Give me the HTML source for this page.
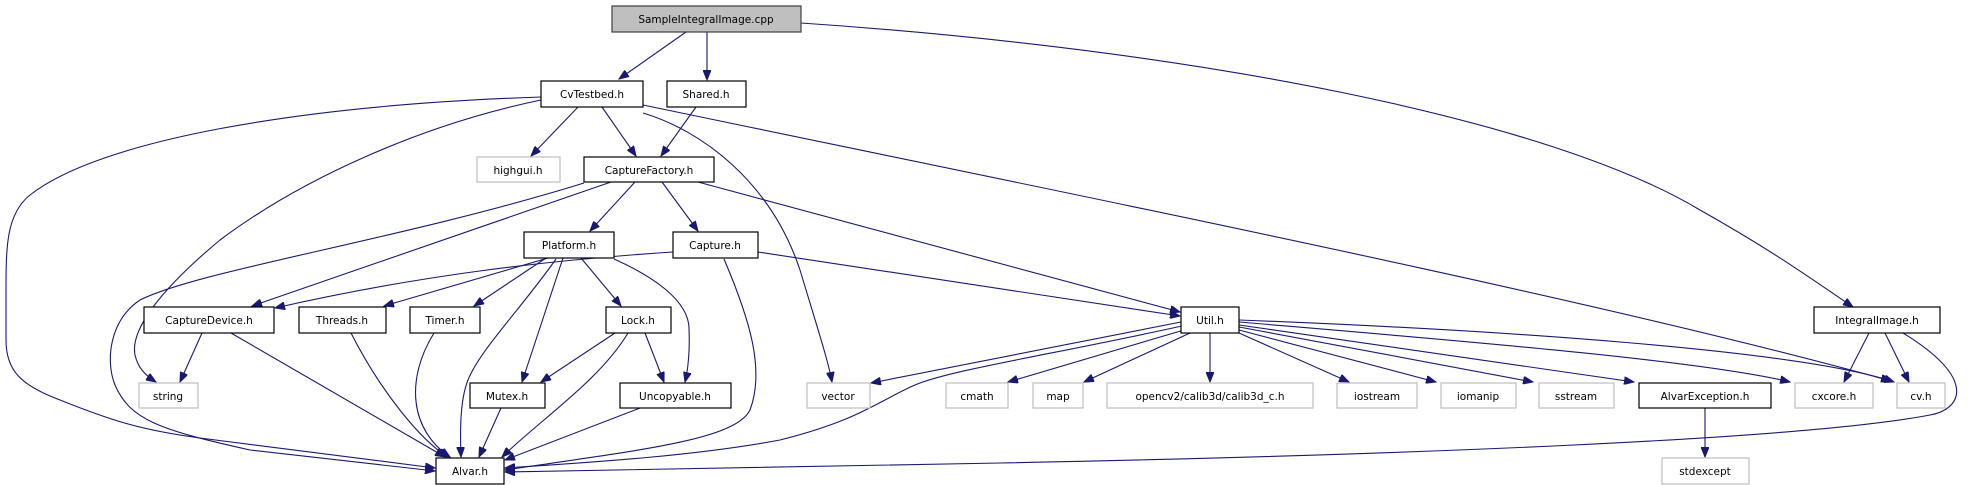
<!DOCTYPE html>
<html><head><meta charset="utf-8"><style>
html,body{margin:0;padding:0;background:#fff;}
svg{display:block;}
text{font-family:"DejaVu Sans","Liberation Sans",sans-serif;font-size:10.5px;fill:#000;text-anchor:middle;}
.n{fill:#fff;stroke:#000;stroke-width:1.2;}
.g{fill:#fff;stroke:#bfbfbf;stroke-width:1.2;}
.e{fill:none;stroke:#191970;stroke-width:1.1;}
</style></head><body>
<svg width="1970" height="485" viewBox="0 0 1970 485" xmlns="http://www.w3.org/2000/svg">
<defs><marker id="a" markerUnits="userSpaceOnUse" markerWidth="11" markerHeight="8" refX="10" refY="4" orient="auto"><path d="M0,0 L10,4 L0,8 z" fill="#191970" stroke="#191970"/></marker></defs>
<g marker-end="url(#a)" class="e">
<path class="e" d="M686,32 L619,79"/>
<path class="e" d="M707,32 L707,80"/>
<path class="e" d="M801,23 C1200,50 1550,120 1700,210 C1780,255 1820,285 1853,307"/>
<path class="e" d="M578,107 L531,156"/>
<path class="e" d="M602,107 L636,156"/>
<path class="e" d="M643,113 C700,130 770,180 800,270 C815,320 828,360 832,382"/>
<path class="e" d="M643,105 C1100,200 1600,300 1891,381"/>
<path class="e" d="M541,97 C300,105 100,140 30,195 C5,215 6,250 6,300 L6,340 C6,370 20,385 60,400 C110,420 140,430 200,438 L435,468"/>
<path class="e" d="M541,100 C420,125 300,180 220,240 C160,290 130,330 135,355 C138,368 145,375 156,382"/>
<path class="e" d="M696,107 L661,156"/>
<path class="e" d="M635,182 L590,231"/>
<path class="e" d="M662,182 L698,231"/>
<path class="e" d="M698,182 L1180,312"/>
<path class="e" d="M611,182 L252,306"/>
<path class="e" d="M584,183 C400,240 200,270 140,300 C110,320 105,360 115,385 C130,420 160,430 250,450 L435,471"/>
<path class="e" d="M548,258 L384,306"/>
<path class="e" d="M546,258 L474,306"/>
<path class="e" d="M556,259 C520,310 480,350 468,380 C460,400 460,430 461,457"/>
<path class="e" d="M563,258 L522,382"/>
<path class="e" d="M581,258 L621,306"/>
<path class="e" d="M614,259 C650,275 690,300 689,330 C690,350 688,370 685,382"/>
<path class="e" d="M673,252 C550,260 420,275 275,308"/>
<path class="e" d="M724,259 C750,320 765,370 750,410 C735,440 640,450 505,470"/>
<path class="e" d="M758,252 L1180,316"/>
<path class="e" d="M202,333 L180,382"/>
<path class="e" d="M231,333 L445,457"/>
<path class="e" d="M351,333 C380,390 420,440 448,457"/>
<path class="e" d="M434,333 C405,380 410,430 450,457"/>
<path class="e" d="M615,333 L541,382"/>
<path class="e" d="M628,333 C600,380 540,420 502,457"/>
<path class="e" d="M645,333 L664,382"/>
<path class="e" d="M501,408 L479,457"/>
<path class="e" d="M640,408 L505,460"/>
<path class="e" d="M1181,322 L871,383"/>
<path class="e" d="M1182,326 C1050,355 950,370 915,385 C880,400 860,420 780,440 C700,455 600,462 505,468"/>
<path class="e" d="M1184,330 L1008,382"/>
<path class="e" d="M1190,333 L1084,382"/>
<path class="e" d="M1210,333 L1210,382"/>
<path class="e" d="M1239,333 L1349,382"/>
<path class="e" d="M1239,330 L1436,382"/>
<path class="e" d="M1239,327 L1533,382"/>
<path class="e" d="M1239,325 L1634,382"/>
<path class="e" d="M1239,322 C1450,340 1700,360 1790,382"/>
<path class="e" d="M1239,320 C1500,330 1800,350 1894,382"/>
<path class="e" d="M1869,333 L1844,382"/>
<path class="e" d="M1885,333 L1909,382"/>
<path class="e" d="M1903,333 C1980,380 1960,410 1930,415 C1800,440 1400,455 1000,463 L505,472"/>
<path class="e" d="M1705,408 L1705,457"/>
</g>
<rect x="612" y="6" width="189" height="26" fill="#bfbfbf" stroke="#404040" stroke-width="1.2"/><text x="706" y="23">SampleIntegralImage.cpp</text>
<rect class="n" x="541" y="81" width="102" height="26"/><text x="592" y="98">CvTestbed.h</text>
<rect class="n" x="667" y="81" width="79" height="26"/><text x="706" y="98">Shared.h</text>
<rect class="g" x="477" y="157" width="83" height="25"/><text x="518" y="174">highgui.h</text>
<rect class="n" x="584" y="157" width="130" height="25"/><text x="649" y="174">CaptureFactory.h</text>
<rect class="n" x="524" y="232" width="90" height="26"/><text x="569" y="249">Platform.h</text>
<rect class="n" x="673" y="232" width="85" height="26"/><text x="715" y="249">Capture.h</text>
<rect class="n" x="144" y="307" width="130" height="26"/><text x="209" y="324">CaptureDevice.h</text>
<rect class="n" x="299" y="307" width="87" height="26"/><text x="342" y="324">Threads.h</text>
<rect class="n" x="410" y="307" width="70" height="26"/><text x="445" y="324">Timer.h</text>
<rect class="n" x="606" y="307" width="65" height="26"/><text x="638" y="324">Lock.h</text>
<rect class="n" x="1181" y="307" width="58" height="26"/><text x="1210" y="324">Util.h</text>
<rect class="n" x="1814" y="307" width="126" height="26"/><text x="1877" y="324">IntegralImage.h</text>
<rect class="g" x="139" y="383" width="59" height="25"/><text x="168" y="400">string</text>
<rect class="n" x="470" y="383" width="75" height="25"/><text x="507" y="400">Mutex.h</text>
<rect class="n" x="620" y="383" width="111" height="25"/><text x="675" y="400">Uncopyable.h</text>
<rect class="g" x="807" y="383" width="63" height="25"/><text x="838" y="400">vector</text>
<rect class="g" x="946" y="383" width="62" height="25"/><text x="977" y="400">cmath</text>
<rect class="g" x="1033" y="383" width="50" height="25"/><text x="1058" y="400">map</text>
<rect class="g" x="1107" y="383" width="206" height="25"/><text x="1210" y="400">opencv2/calib3d/calib3d_c.h</text>
<rect class="g" x="1337" y="383" width="80" height="25"/><text x="1377" y="400">iostream</text>
<rect class="g" x="1441" y="383" width="75" height="25"/><text x="1478" y="400">iomanip</text>
<rect class="g" x="1539" y="383" width="75" height="25"/><text x="1576" y="400">sstream</text>
<rect class="n" x="1639" y="383" width="132" height="25"/><text x="1705" y="400">AlvarException.h</text>
<rect class="g" x="1795" y="383" width="78" height="25"/><text x="1834" y="400">cxcore.h</text>
<rect class="g" x="1897" y="383" width="48" height="25"/><text x="1921" y="400">cv.h</text>
<rect class="n" x="436" y="458" width="68" height="26"/><text x="470" y="475">Alvar.h</text>
<rect class="g" x="1662" y="458" width="87" height="26"/><text x="1705" y="475">stdexcept</text>
</svg>
</body></html>
